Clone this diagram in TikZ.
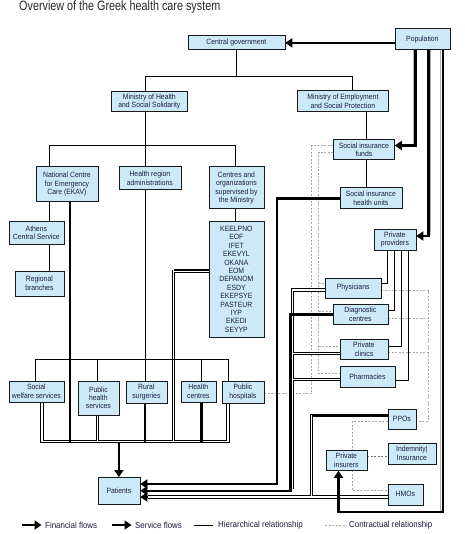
\documentclass[tikz,border=0pt]{standalone}
\usepackage{fontspec}
\setmainfont{Liberation Sans}[FakeStretch=0.9]
\newfontfamily\titlefont{Liberation Sans}[FakeStretch=0.8]
\usetikzlibrary{arrows.meta,backgrounds}
\pgfdeclarelayer{bottom}
\pgfsetlayers{bottom,background,main}
\definecolor{boxblue}{HTML}{CCE9F7}
\definecolor{txt}{HTML}{1C1C44}
\definecolor{dashgray}{HTML}{A8A8A8}
\newcommand\boxfont{\fontsize{7.6}{8.4}\selectfont}
\newcommand\mkbox[6]{\node[box,anchor=north west,minimum width={(#4-#2)*1pt},minimum height={(#5-#3)*1pt}] (#1) at (#2,#3) {#6};}
\newcommand\svcpaths[1]{%
\draw[#1] (sws.south -| s1) -- (s1 |- bus) -- (s4 |- bus) -- (phos.south -| s4);
\draw[#1] (phs.south -| h9) -- (h9 |- bus);
\draw[#1] (keel.west |- k2) -- (k2) -- (k2 |- bus);
\draw[#1] (phy.west |- s6) -- (s6) -- (s7);
\draw[#1] (pc.west |- s8) -- (s8);
\draw[#1] (ph.west |- s9) -- (s9);
\draw[#1] (ppo.west |- q1) -- (q1) -- (q2) -- (r2);
\draw[#1] (hmo.west |- q2) -- (q2);
}
\begin{document}
\begin{tikzpicture}[x=1pt,y=-1pt,
  box/.style={draw=black!90, line width=0.75pt, fill=boxblue, inner sep=0pt, align=center, font=\boxfont, text=txt},
  hier/.style={line width=0.75pt, black},
  fin/.style={line width=2.4pt, black},
  finar/.style={fin, -{Triangle[length=7pt,width=9pt]}},
  shade/.style={line width=1pt, black!30},
  svcA/.style={line width=3.2pt, black},
  svcB/.style={line width=1.6pt, white},
  con/.style={dashgray, line width=0.7pt, dash pattern=on 2pt off 1.5pt},
  con2/.style={con, draw=black!55},
  legtext/.style={anchor=west, font=\fontsize{8.8}{10}\selectfont, text=txt, inner sep=0pt}]
\begin{pgfonlayer}{bottom}
\fill[white] (0,0) rectangle (464,534);
\end{pgfonlayer}
\useasboundingbox (0,0) rectangle (464,534);

\node[anchor=west, inner sep=0pt, font=\titlefont\fontsize{13.5}{14}\selectfont, text=black!85] (title) at (19,7.5) {Overview of the Greek health care system};

% boxes
\mkbox{cg}{187.5}{35.5}{284.5}{49.5}{Central government}
\mkbox{pop}{394.5}{28.5}{449.5}{49.5}{Population}
\mkbox{mh}{111}{91}{187}{111.5}{Ministry of Health\\and Social Solidarity}
\mkbox{me}{297}{90.5}{388}{111.5}{Ministry of Employment\\and Social Protection}
\mkbox{sif}{333}{139.5}{394}{159}{Social insurance\\funds}
\mkbox{ekav}{35.5}{166.5}{97.5}{201.5}{National Centre\\for Emergency\\Care (EKAV)}
\mkbox{hra}{118.5}{166.5}{180.5}{189.5}{Health region\\administrations}
\mkbox{cen}{208.5}{166.5}{263.5}{208.5}{Centres and\\organizations\\supervised by\\the Ministry}
\mkbox{keel}{208.5}{221.5}{263.5}{336.5}{KEELPNO\\EOF\\IFET\\EKEVYL\\OKANA\\EOM\\DEPANOM\\ESDY\\EKEPSYE\\PASTEUR\\IYP\\EKEDI\\SEYYP}
\mkbox{acs}{8.5}{221.5}{63.5}{243.5}{Athens\\Central Service}
\mkbox{rb}{14.5}{270.5}{63.5}{295.5}{Regional\\branches}
\mkbox{sihu}{339.5}{187.5}{401.5}{208.5}{Social insurance\\health units}
\mkbox{pp}{373.5}{228.5}{415.5}{249.5}{Private\\providers}
\mkbox{phy}{325}{277.5}{380.5}{297.5}{Physicians}
\mkbox{dc}{332.5}{304}{387.5}{324}{Diagnostic\\centres}
\mkbox{pc}{339.5}{339}{387.5}{359}{Private\\clinics}
\mkbox{ph}{339.5}{366}{394.5}{386.5}{Pharmacies}
\mkbox{sws}{8.5}{380.5}{63.5}{401.5}{Social\\welfare services}
\mkbox{phs}{77.5}{380.5}{118.5}{414.5}{Public\\health\\services}
\mkbox{rs}{125.5}{380.5}{166.5}{402.5}{Rural\\surgeries}
\mkbox{hc}{180.5}{380.5}{215.5}{401.5}{Health\\centres}
\mkbox{phos}{221.5}{380.5}{263.5}{402.5}{Public\\hospitals}
\mkbox{ppo}{387.5}{408.5}{415.5}{428.5}{PPOs}
\mkbox{ind}{387.5}{442.5}{435.5}{463.5}{Indemnity|\\Insurance}
\mkbox{pi}{325.5}{449.5}{366.5}{470}{Private\\insurers}
\mkbox{hmo}{387.5}{483.5}{422.5}{504.5}{HMOs}
\mkbox{pat}{97.5}{477}{139.5}{504}{Patients}

% junction coordinates
\coordinate (h1) at (145,76);
\coordinate (h2) at (352,76);
\coordinate (h3) at (145,145);
\coordinate (h4) at (49.5,145);
\coordinate (h5) at (235.5,145);
\coordinate (h7) at (35.5,359);
\coordinate (h8) at (228.5,359);
\coordinate (h9) at (97.5,359);
\coordinate (h10) at (201.5,359);
\coordinate (h11) at (366.5,0);
\coordinate (p1) at (387.5,283.5);
\coordinate (p2) at (394.5,310.5);
\coordinate (p3) at (401.5,346);
\coordinate (p4) at (408.5,380);
\coordinate (f1) at (415.3,145.5);
\coordinate (f2) at (428.5,236);
\coordinate (f3) at (442.7,512);
\coordinate (f4) at (338.5,512);
\coordinate (f5) at (277,484);
\coordinate (f6) at (290.5,490.7);
\coordinate (g1) at (413.6,144);
\coordinate (g2) at (430.6,235);
\coordinate (g3) at (440.9,511);
\coordinate (e1) at (70,0);
\coordinate (bus) at (0,441.5);
\coordinate (busb) at (0,443);
\coordinate (k1) at (173.5,269.8);
\coordinate (k2) at (173.5,271.2);
\coordinate (s1) at (42,0);
\coordinate (s4) at (228,0);
\coordinate (s6) at (292.5,290);
\coordinate (s7) at (292.5,489);
\coordinate (s8) at (292.5,353.3);
\coordinate (s9) at (292.5,379.3);
\coordinate (q1) at (311.5,415.5);
\coordinate (q0) at (311.5,414.7);
\coordinate (q2) at (311.5,497);
\coordinate (r2) at (148,497);
\coordinate (c1) at (311.5,145.5);
\coordinate (c2) at (311.5,393.5);
\coordinate (c3) at (318.5,152.5);
\coordinate (c4) at (318.5,373.5);
\coordinate (c5) at (318.5,283.5);
\coordinate (c6) at (318.5,311);
\coordinate (c7) at (318.5,346);
\coordinate (c8) at (428.5,290.5);
\coordinate (c9) at (428.5,421);
\coordinate (c10) at (428.5,318.5);
\coordinate (c11) at (428.5,352.5);
\coordinate (c12) at (0,456.5);
\coordinate (c13) at (352.5,421);
\coordinate (c14) at (352.5,490.5);

\begin{pgfonlayer}{background}
% contractual
\draw[con] (sif.west |- c1) -- (c1) -- (c2) -- (phos.east |- c2);
\draw[con] (sif.west |- c3) -- (c3) -- (c4) -- (ph.west |- c4);
\draw[con] (c5) -- (phy.west |- c5);
\draw[con] (c6) -- (dc.west |- c6);
\draw[con] (c7) -- (pc.west |- c7);
\draw[con] (phy.east |- c8) -- (c8) -- (c9) -- (ppo.east |- c9);
\draw[con] (dc.east |- c10) -- (c10);
\draw[con] (pc.east |- c11) -- (c11);
\draw[con] (ppo.west |- c13) -- (c13) -- (c14) -- (hmo.west |- c14);
\draw[con2] (pi.east |- c12) -- (ind.west |- c12);
% service flows (double lines)
\svcpaths{svcA}
\svcpaths{svcB}
% hierarchy
\draw[hier] (cg.south) |- (h1) -- (h1 |- mh.north);
\draw[hier] (cg.south) |- (h2) -- (h2 |- me.north);
\draw[hier] (mh.south -| h1) -- (h3);
\draw[hier] (h4) -- (h5);
\draw[hier] (h4) -- (h4 |- ekav.north);
\draw[hier] (h3) -- (h3 |- hra.north);
\draw[hier] (h5) -- (h5 |- cen.north);
\draw[hier] (cen.south -| h5) -- (keel.north -| h5);
\draw[hier] (ekav.south -| h4) -- (acs.north -| h4);
\draw[hier] (acs.south -| h4) -- (rb.north -| h4);
\draw[hier] (hra.south -| h3) -- (rs.north -| h3);
\draw[hier] (h7) -- (h8) -- (phos.north -| h8);
\draw[hier] (h7) -- (sws.north -| h7);
\draw[hier] (h9) -- (phs.north -| h9);
\draw[hier] (h10) -- (hc.north -| h10);
\draw[hier] (me.south -| h11) -- (sif.north -| h11);
\draw[hier] (sif.south -| h11) -- (sihu.north -| h11);
\draw[hier] (pp.south -| p1) |- (phy.east |- p1);
\draw[hier] (pp.south -| p2) |- (dc.east |- p2);
\draw[hier] (pp.south -| p3) |- (pc.east |- p3);
\draw[hier] (pp.south -| p4) |- (ph.east |- p4);
% financial flows
\draw[shade] (pop.south -| g1) -- (g1);
\draw[shade] (pop.south -| g2) -- (g2);
\draw[shade] (pop.south -| g3) -- (g3);
\draw[finar] (pop.west |- cg.east) -- (cg.east);
\draw[finar] (pop.south -| f1) |- (sif.east |- f1);
\draw[finar] (pop.south -| f2) |- (pp.east |- f2);
\draw[finar] (pop.south -| f3) -- (f3) -- (f4) -- (pi.south -| f4);
\draw[fin] (ekav.south -| e1) -- (e1 |- busb);
\draw[fin] (rs.south -| h3) -- (h3 |- busb);
\draw[fin] (hc.south -| h10) -- (h10 |- busb);
\draw[finar] (pat.north |- busb) -- (pat.north);
\draw[finar] (sihu.west) -| (f5) -- (pat.east |- f5);
\draw[finar] (dc.west) -| (f6) -- (pat.east |- f6);
\draw[fin] (keel.west |- k1) -- (k1);
\draw[fin] (ppo.west |- q0) -- (q0);
\draw[finar] (r2) -- (pat.east |- r2);
\end{pgfonlayer}

% legend
\coordinate (lg1) at (21.5,525);
\coordinate (lg2) at (41.5,525);
\coordinate (lg3) at (111.5,525);
\coordinate (lg4) at (131.5,525);
\coordinate (lg5) at (194,525);
\coordinate (lg6) at (213,525);
\coordinate (lg7) at (325,525);
\coordinate (lg8) at (346.5,525);
\draw[finar] (lg1) -- (lg2);
\node[legtext] (lt1) at (45,525) {Financial flows};
\draw[finar] (lg3) -- (lg4);
\node[legtext] (lt2) at (135,525) {Service flows};
\draw[hier] (lg5) -- (lg6);
\node[legtext] (lt3) at (218,525) {Hierarchical relationship};
\draw[con] (lg7) -- (lg8);
\node[legtext] (lt4) at (349,525) {Contractual relationship};
\end{tikzpicture}
\end{document}
